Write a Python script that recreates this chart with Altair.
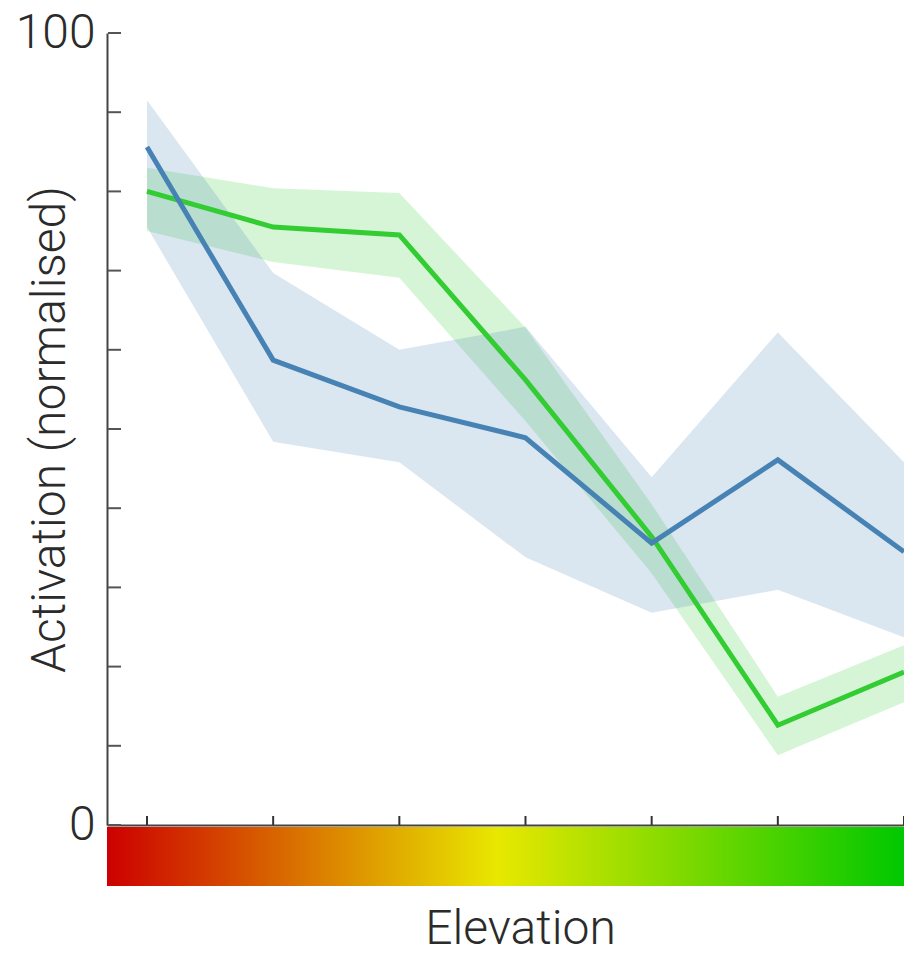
import altair as alt
import pandas as pd

# Elevation steps (positions along the x axis)
positions = [0, 1, 2, 3, 4, 5, 6]

# Blue series: mean activation and its confidence band
blue_mean = [85.6, 58.7, 52.8, 48.9, 35.6, 46.1, 34.5]
blue_upper = [91.5, 69.7, 60.0, 62.9, 43.9, 62.2, 45.8]
blue_lower = [75.5, 48.4, 45.8, 33.8, 26.8, 29.7, 23.7]

# Green series: mean activation and its confidence band
green_mean = [80.0, 75.5, 74.5, 56.2, 36.4, 12.6, 19.3]
green_upper = [83.0, 80.4, 79.8, 62.8, 40.5, 16.2, 22.7]
green_lower = [75.0, 71.1, 69.1, 51.0, 31.8, 8.8, 15.5]

y_tick_values = [0, 10, 20, 30, 40, 50, 60, 70, 80, 90, 100]
y_label_values = [0, 100]

W, H = 797, 792
FONT = "Roboto"
FSIZE = 48
TEXT_COLOR = "#2b2b2b"
BLUE = "#4682b4"
GREEN = "#33cc33"

blue_df = pd.DataFrame({"pos": positions, "mean": blue_mean,
                        "lo": blue_lower, "hi": blue_upper})
green_df = pd.DataFrame({"pos": positions, "mean": green_mean,
                         "lo": green_lower, "hi": green_upper})

x_scale = alt.Scale(domain=[-0.317, 6], nice=False, zero=False)
y_scale = alt.Scale(domain=[0, 100], nice=False)

x_axis = alt.Axis(title="Elevation", labels=False, ticks=False, tickSize=0,
                  grid=False, domainColor="#444", domainWidth=2,
                  titleFont=FONT, titleFontSize=FSIZE, titleFontWeight=300,
                  titleColor=TEXT_COLOR, titleX=413, titleY=118,
                  titleBaseline="alphabetic", titleAlign="center")
y_axis = alt.Axis(title="Activation (normalised)", values=y_label_values,
                  ticks=False, tickSize=0, grid=False, labelPadding=12,
                  domainColor="#444", domainWidth=2,
                  labelFont=FONT, labelFontSize=FSIZE, labelFontWeight=300,
                  labelColor=TEXT_COLOR, labelBaseline="middle",
                  titleFont=FONT, titleFontSize=FSIZE, titleFontWeight=300,
                  titleColor=TEXT_COLOR, titleAngle=-90, titleX=-43, titleY=H / 2,
                  titleBaseline="alphabetic", titleAlign="center")

x_enc = alt.X("pos:Q", scale=x_scale, axis=x_axis)


def band(df, color):
    return alt.Chart(df).mark_area(color=color, opacity=0.2).encode(
        x=x_enc,
        y=alt.Y("lo:Q", scale=y_scale, axis=y_axis),
        y2="hi:Q",
    )


def line(df, color):
    return alt.Chart(df).mark_line(color=color, strokeWidth=5).encode(
        x=x_enc,
        y=alt.Y("mean:Q", scale=y_scale, axis=y_axis),
    )


# Inward-pointing tick marks on both axes
y_ticks = alt.Chart(pd.DataFrame({"v": y_tick_values})).mark_rule(
    color="#555", strokeWidth=2
).encode(y=alt.Y("v:Q", scale=y_scale, axis=y_axis), x=alt.value(1), x2=alt.value(14))

x_ticks = alt.Chart(pd.DataFrame({"pos": positions})).mark_rule(
    color="#333", strokeWidth=2
).encode(x=x_enc, y=alt.value(H - 9), y2=alt.value(H))

# Colour bar for elevation beneath the x axis
gradient = alt.LinearGradient(
    gradient="linear",
    stops=[
        alt.GradientStop(color="#cc0000", offset=0),
        alt.GradientStop(color="#e8e800", offset=0.49),
        alt.GradientStop(color="#00c800", offset=1),
    ],
    x1=0, x2=1, y1=0, y2=0,
)
elev_bar = alt.Chart(pd.DataFrame({"k": [0]})).mark_rect(color=gradient).encode(
    x=alt.value(0), x2=alt.value(W), y=alt.value(H + 2), y2=alt.value(H + 61)
)

chart = alt.layer(
    band(green_df, GREEN),
    band(blue_df, BLUE),
    line(green_df, GREEN),
    line(blue_df, BLUE),
    y_ticks,
    x_ticks,
    elev_bar,
).properties(
    width=W, height=H,
    autosize=alt.AutoSizeParams(type="none"),
    padding={"left": 107, "top": 33, "right": 0, "bottom": 133},
    background="white",
).configure_view(stroke=None)

chart.save("out.html", embed_options={"renderer": "svg", "actions": False})
